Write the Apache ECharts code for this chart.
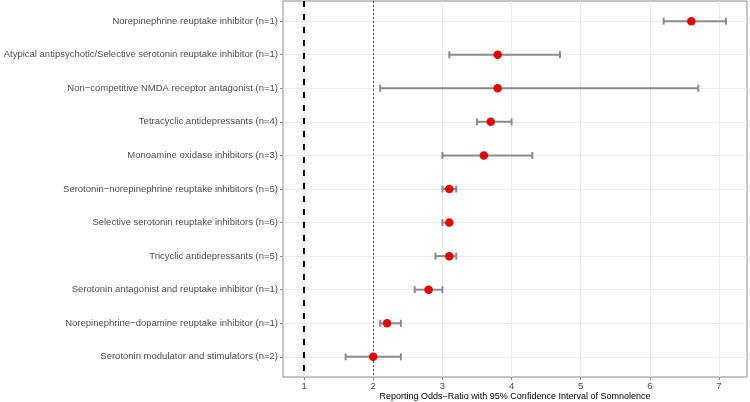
<!DOCTYPE html>
<html>
<head>
<meta charset="utf-8">
<script src="https://cdn.jsdelivr.net/npm/echarts@6/dist/echarts.min.js"></script>
<style>html,body{margin:0;padding:0;background:#fff}#c{width:750px;height:402px}</style>
</head>
<body>
<div id="c"></div>
<script>
const categories = [
  'Norepinephrine reuptake inhibitor (n=1)',
  'Atypical antipsychotic/Selective serotonin reuptake inhibitor (n=1)',
  'Non\u2212competitive NMDA receptor antagonist (n=1)',
  'Tetracyclic antidepressants (n=4)',
  'Monoamine oxidase inhibitors (n=3)',
  'Serotonin\u2212norepinephrine reuptake inhibitors (n=5)',
  'Selective serotonin reuptake inhibitors (n=6)',
  'Tricyclic antidepressants (n=5)',
  'Serotonin antagonist and reuptake inhibitor (n=1)',
  'Norepinephrine\u2212dopamine reuptake inhibitor (n=1)',
  'Serotonin modulator and stimulators (n=2)'
];
const estimates = [6.6, 3.8, 3.8, 3.7, 3.6, 3.1, 3.1, 3.1, 2.8, 2.2, 2.0];
const ciLow    = [6.2, 3.1, 2.1, 3.5, 3.0, 3.0, 3.0, 2.9, 2.6, 2.1, 1.6];
const ciHigh   = [7.1, 4.7, 6.7, 4.0, 4.3, 3.2, 3.1, 3.2, 3.0, 2.4, 2.4];
const xTicks = [1, 2, 3, 4, 5, 6, 7];
const refLines = [1, 2];
const xTitle = 'Reporting Odds\u2212Ratio with 95% Confidence Interval of Somnolence';

const rowPos = categories.map((c, i) => i + 1);
const font = '"Liberation Sans", Arial, Helvetica, sans-serif';

const chart = echarts.init(document.getElementById('c'), null, {renderer: 'canvas'});
chart.setOption({
  animation: false,
  grid: {left: 283, right: 3, top: 1, bottom: 25, show: true, borderColor: '#8a8a8a', borderWidth: 1,
    backgroundColor: 'transparent', containLabel: false, outerBoundsMode: 'none'},
  xAxis: {
    type: 'value', min: 0.695, max: 7.405,
    axisLine: {show: false},
    splitLine: {show: false},
    axisTick: {show: true, length: 3, lineStyle: {color: '#8a8a8a'}, customValues: xTicks},
    axisLabel: {customValues: xTicks, color: '#4d4d4d', fontSize: 9.5, fontFamily: font, margin: 4},
    name: xTitle, nameLocation: 'middle', nameGap: 15, nameMoveOverlap: false,
    nameTextStyle: {color: '#000', fontSize: 9, fontFamily: font}
  },
  yAxis: {
    type: 'value', min: 0.4, max: 11.6, inverse: true,
    axisLine: {show: false},
    splitLine: {show: false},
    axisTick: {show: true, length: 3, lineStyle: {color: '#8a8a8a'}, customValues: rowPos},
    axisLabel: {customValues: rowPos, color: '#4d4d4d', fontSize: 9.5, fontFamily: font, margin: 5,
      formatter: v => categories[Math.round(v) - 1] || ''}
  },
  series: [
    {
      type: 'line', data: [], z: 1, silent: true,
      markLine: {
        silent: true, symbol: 'none', label: {show: false}, z: 1,
        lineStyle: {color: '#ebebeb', width: 1, type: 'solid'},
        data: xTicks.map(v => ({xAxis: v})).concat(rowPos.map(v => ({yAxis: v})))
      }
    },
    {
      type: 'line', data: [], z: 2, silent: true,
      markLine: {
        silent: true, symbol: 'none', label: {show: false}, z: 2,
        data: [
          {xAxis: refLines[0], lineStyle: {color: '#000', width: 2, type: [6, 7]}},
          {xAxis: refLines[1], lineStyle: {color: '#444', width: 1, type: [2, 2]}}
        ]
      }
    },
    {
      type: 'custom', z: 3, silent: true,
      data: categories.map((c, i) => [rowPos[i], ciLow[i], ciHigh[i]]),
      renderItem: function (params, api) {
        const y = api.value(0);
        const a = api.coord([api.value(1), y]);
        const b = api.coord([api.value(2), y]);
        const h = 3.5;
        const st = {stroke: '#8c8c8c', lineWidth: 2};
        return {type: 'group', children: [
          {type: 'line', shape: {x1: a[0], y1: a[1], x2: b[0], y2: b[1]}, style: st},
          {type: 'line', shape: {x1: a[0], y1: a[1] - h, x2: a[0], y2: a[1] + h}, style: st},
          {type: 'line', shape: {x1: b[0], y1: b[1] - h, x2: b[0], y2: b[1] + h}, style: st}
        ]};
      },
      encode: {x: [1, 2], y: 0}
    },
    {
      type: 'scatter', z: 4, silent: true,
      data: categories.map((c, i) => [estimates[i], rowPos[i]]),
      symbol: 'circle', symbolSize: 8.5,
      itemStyle: {color: '#e60000', opacity: 1}
    }
  ]
});
</script>
</body>
</html>
